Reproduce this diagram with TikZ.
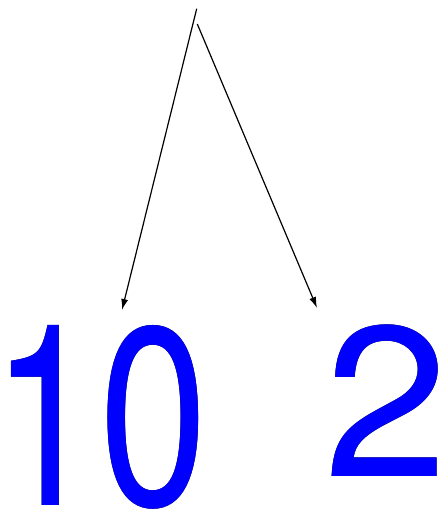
\documentclass[tikz,border=0pt]{standalone}
\usepackage{fontspec}
\setmainfont{TeX Gyre Heros}
\usepackage{xcolor}
\usepackage{pdfrender}
\usetikzlibrary{arrows.meta}

\newcommand{\outlined}[1]{\rlap{\textpdfrender{TextRenderingMode=FillStroke,
   LineWidth=2.6}{#1}}\textcolor{blue}{#1}}

\begin{document}
\begin{tikzpicture}[x=1pt, y=1pt,
    digit/.style={inner sep=0pt, anchor=base},
    flow/.style={-{Latex[length=11pt, width=7pt]}, line width=1.2pt},
]
\useasboundingbox (0,0) rectangle (443,520);
\node[digit, xscale=0.77] (ten) at (100,15)
   {\fontsize{254}{254}\selectfont\outlined{10}};
\node[digit, xscale=1.04] (two) at (386.5,43)
   {\fontsize{214}{214}\selectfont\outlined{2}};
\coordinate (topa) at (196.7,511.3);
\coordinate (topb) at (197.3,496);
\coordinate (tenin) at (122,210);
\coordinate (twoin) at (317,212);
\draw[flow] (topa) -- (tenin);
\draw[flow] (topb) -- (twoin);
\end{tikzpicture}
\end{document}
